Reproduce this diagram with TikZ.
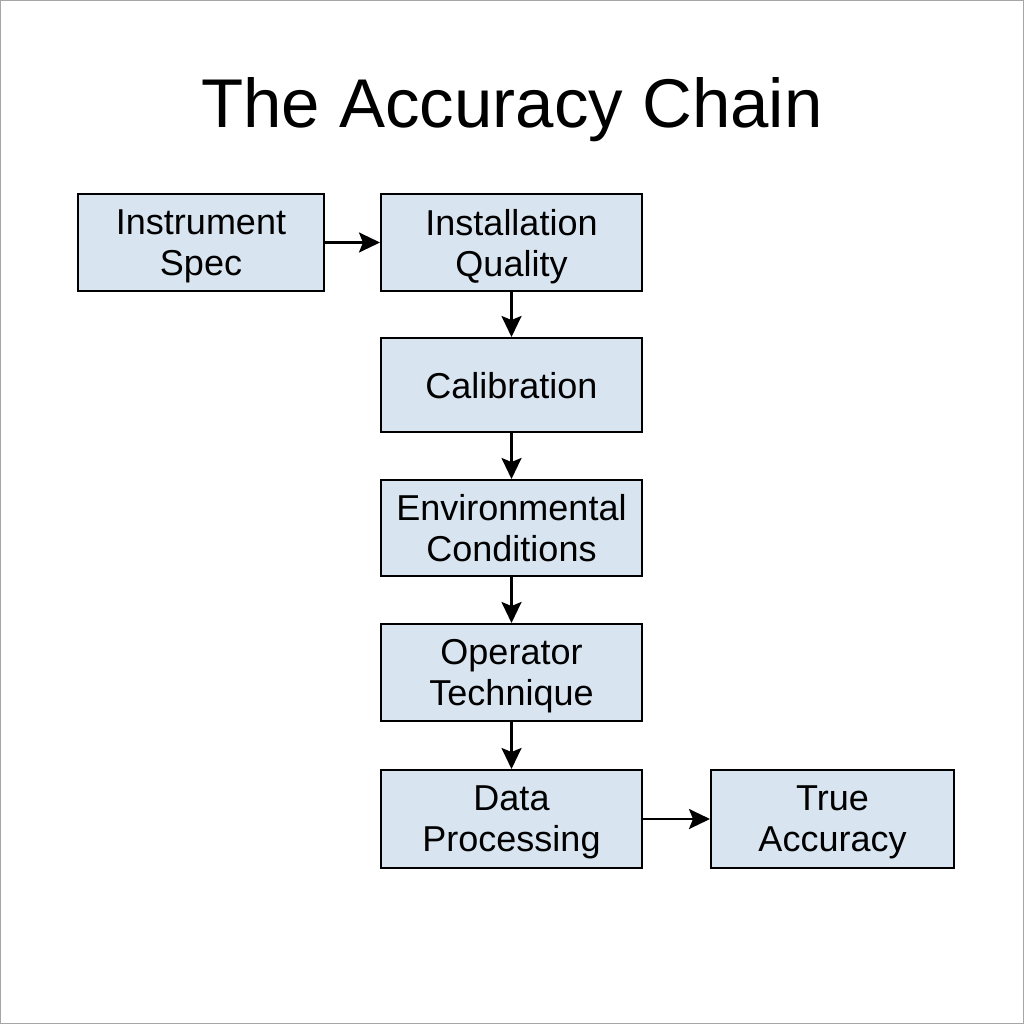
\documentclass[tikz,border=0pt]{standalone}
\usepackage{fontspec}
\setmainfont{Liberation Sans}
\usetikzlibrary{arrows.meta}
\definecolor{boxfill}{HTML}{D8E4EF}
\begin{document}
\begin{tikzpicture}[x=1pt,y=-1pt,
  chainbox/.style={draw=black,line width=2pt,fill=boxfill,minimum height=97pt,
    align=center,font=\fontsize{36}{41}\selectfont,inner sep=0pt,text depth=-8pt},
  link/.style={line width=2.5pt,-{Stealth[length=21pt,width=20pt,inset=4pt]}}]
\path[use as bounding box] (0,0) rectangle (1024,1024);
\draw[gray!70,line width=2pt] (0,0) rectangle (1024,1024);
\node (title) at (512,110) {\fontsize{69}{76}\selectfont The Accuracy Chain};
\node[chainbox,minimum width=246pt] (spec) at (201,242.5) {Instrument\\Spec};
\node[chainbox,minimum width=261pt] (inst) at (511.5,242.5) {Installation\\Quality};
\node[chainbox,minimum width=261pt,minimum height=94pt] (cal) at (511.5,385) {Calibration};
\node[chainbox,minimum width=261pt,minimum height=96pt] (env) at (511.5,528) {Environmental\\Conditions};
\node[chainbox,minimum width=261pt] (op) at (511.5,672.5) {Operator\\Technique};
\node[chainbox,minimum width=261pt,minimum height=98pt] (data) at (511.5,819) {Data\\Processing};
\node[chainbox,minimum width=243pt,minimum height=98pt] (true) at (832.5,819) {True\\Accuracy};
\draw[link] (spec) -- (inst);
\draw[link] (inst) -- (cal);
\draw[link] (cal) -- (env);
\draw[link] (env) -- (op);
\draw[link] (op) -- (data);
\draw[link] (data) -- (true);
\end{tikzpicture}
\end{document}
